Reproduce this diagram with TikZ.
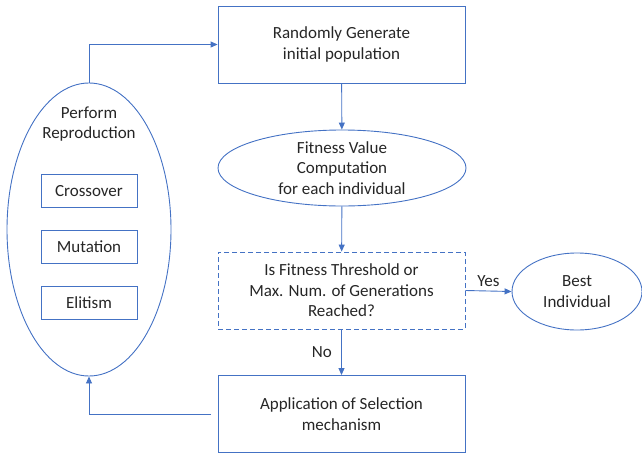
\documentclass[tikz,border=0pt]{standalone}
\usepackage{fontspec}
\setmainfont{Carlito}
\usetikzlibrary{arrows.meta,shapes.geometric}
\definecolor{lineblue}{HTML}{4472C4}
\definecolor{txt}{HTML}{262626}
\begin{document}
\begin{tikzpicture}[x=1pt,y=-1pt,
  every node/.style={font=\fontsize{17}{20.5}\selectfont, text=txt, align=center},
  box/.style={draw=lineblue, line width=0.9pt, minimum width=247pt, minimum height=77pt, inner sep=0pt},
  dbox/.style={box, dash pattern=on 5pt off 3pt},
  oval/.style={draw=lineblue, line width=0.9pt, ellipse, inner sep=0pt},
  small/.style={draw=lineblue, line width=0.9pt, minimum width=96pt, minimum height=33pt, inner sep=0pt},
  conn/.style={draw=lineblue, line width=0.9pt, -{Triangle[length=7pt,width=6pt]}},
  lbl/.style={font=\fontsize{17}{20}\selectfont}]
\useasboundingbox (0,0) rectangle (642,458);
\node[box] (init) at (341.5,44.5) {Randomly Generate\\initial population};
\node[oval, minimum width=248pt, minimum height=76pt] (fit) at (342,168) {Fitness Value\\Computation\\for each individual};
\node[dbox] (dec) at (341.5,290.5) {Is Fitness Threshold or\\Max. Num. of Generations\\Reached?};
\node[box] (sel) at (341.5,414) {Application of Selection\\mechanism};
\node[oval, minimum width=130pt, minimum height=77pt] (best) at (577,291.5) {Best\\Individual};
\node[oval, minimum width=164pt, minimum height=293pt] (rep) at (89,229.5) {};
\node at (89,124) {Perform\\Reproduction};
\node[small] (cross) at (89,191) {Crossover};
\node[small] (mut) at (89,246.5) {Mutation};
\node[small] (eli) at (89,302.5) {Elitism};
\coordinate (selout) at (211,414);
\draw[conn] (init) -- (fit);
\draw[conn] (fit) -- (dec);
\draw[conn] (dec) -- node[lbl, left, pos=0.5, xshift=-6pt] {No} (sel);
\draw[conn] (dec.east) -- node[lbl, above, yshift=1pt] {Yes} (best.west);
\draw[conn] (rep.north) |- (init.west);
\draw[conn] (selout) -| (rep.south);
\end{tikzpicture}
\end{document}
